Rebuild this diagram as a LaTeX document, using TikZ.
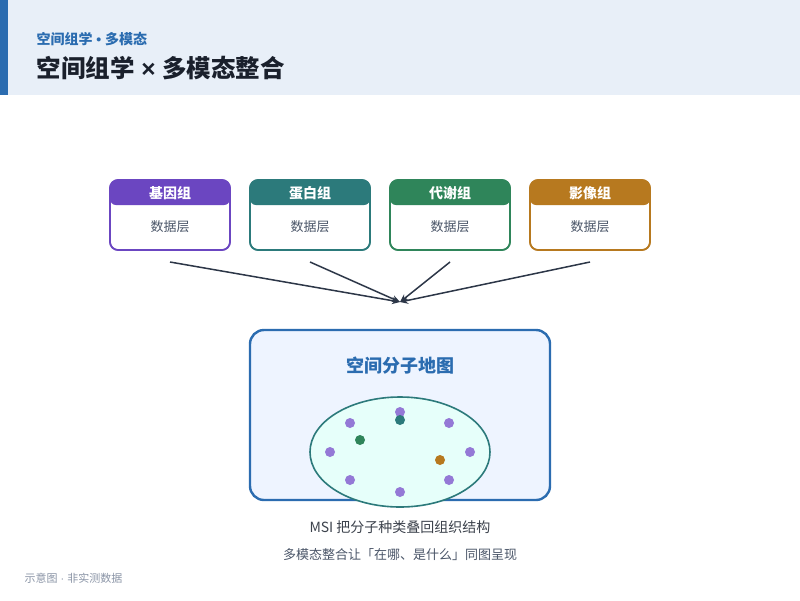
\documentclass[tikz,border=0pt]{standalone}
\usepackage{fontspec}
\setmainfont{Noto Sans CJK SC}
\newfontfamily\latinf{Liberation Sans}
\usetikzlibrary{arrows.meta,shapes.geometric}
\definecolor{hdrbg}{HTML}{E8EFF8}
\definecolor{accent}{HTML}{2B6CB0}
\definecolor{titlec}{HTML}{1A202C}
\definecolor{cpurple}{HTML}{6B46C1}
\definecolor{cteal}{HTML}{2C7A7B}
\definecolor{cgreen}{HTML}{2F855A}
\definecolor{corange}{HTML}{B7791F}
\definecolor{dotp}{HTML}{9479D6}
\definecolor{arrowc}{HTML}{2D3748}
\definecolor{mapbg}{HTML}{EEF4FF}
\definecolor{ellbg}{HTML}{E6FFFA}
\definecolor{subtxt}{HTML}{4A5568}
\definecolor{foot}{HTML}{8A94A6}
\tikzset{
  modbox/.style={draw=#1, line width=1.6pt, rounded corners=8pt, fill=white, minimum width=120pt, minimum height=70pt, inner sep=0pt},
  modhead/.style={text=white, font=\fontsize{14}{16}\selectfont\bfseries},
  modbody/.style={text=subtxt, font=\fontsize{13}{15}\selectfont},
  flow/.style={draw=arrowc, line width=1.5pt, -{Stealth[length=8pt,width=7pt]}},
  dot/.style={circle, fill=#1, minimum size=10pt, inner sep=0pt},
}
\begin{document}
\begin{tikzpicture}[x=1pt,y=-1pt]
\useasboundingbox (0,0) rectangle (800,600);
\fill[white] (0,0) rectangle (800,600);
% header
\fill[hdrbg] (0,0) rectangle (800,95);
\fill[accent] (0,0) rectangle (8,95);
\node[anchor=west, text=accent, font=\fontsize{14}{16}\selectfont\bfseries] (sub) at (33,39) {空间组学{\latinf\ • }多模态};
\node[anchor=west, text=titlec, font=\fontsize{24.5}{28}\selectfont\bfseries] (title) at (33,68) {空间组学{\latinf\ ×\ }多模态整合};
% module boxes
\foreach \nm/\cx/\col/\lab in {b1/170/cpurple/基因组, b2/310/cteal/蛋白组, b3/450/cgreen/代谢组, b4/590/corange/影像组}{
  \node[modbox=\col] (\nm) at (\cx,215) {};
  \begin{scope}
    \clip[rounded corners=8pt] (\cx-60,180) rectangle (\cx+60,250);
    \fill[\col, rounded corners=6pt] (\cx-60,172) rectangle (\cx+60,205);
  \end{scope}
  \draw[\col, line width=1.6pt, rounded corners=8pt] (\cx-60,180) rectangle (\cx+60,250);
  \node[modhead] (\nm h) at (\cx,193) {\lab};
  \node[modbody] (\nm t) at (\cx,227) {数据层};
  \coordinate (\nm s) at (\cx,262);
}
% main map
\node[draw=accent, line width=2.4pt, fill=mapbg, rounded corners=14pt, minimum width=300pt, minimum height=170pt] (map) at (400,415) {};
\coordinate (tgt) at (400,302);
\foreach \s in {b1s,b2s,b3s,b4s}{ \draw[flow] (\s) -- (tgt); }
\node[text=accent, font=\fontsize{18}{20}\selectfont\bfseries] (maptitle) at (400,366) {空间分子地图};
\node[ellipse, draw=cteal, line width=1.6pt, fill=ellbg, minimum width=180pt, minimum height=110pt, inner sep=0pt] (ell) at (400,452) {};
% dots
\node[dot=dotp] (d1) at (400,412) {};
\node[dot=dotp] (d2) at (350,423) {};
\node[dot=dotp] (d3) at (449,423) {};
\node[dot=dotp] (d4) at (330,452) {};
\node[dot=dotp] (d5) at (470,452) {};
\node[dot=dotp] (d6) at (350,480) {};
\node[dot=dotp] (d7) at (449,480) {};
\node[dot=dotp] (d8) at (400,492) {};
\node[dot=cteal] (e1) at (400,420) {};
\node[dot=cgreen] (e2) at (360,440) {};
\node[dot=corange] (e3) at (440,460) {};
% captions
\node[text=titlec!85, font=\fontsize{14}{16}\selectfont] (cap1) at (400,527) {MSI 把分子种类叠回组织结构};
\node[text=subtxt, font=\fontsize{13}{15}\selectfont] (cap2) at (400,555) {多模态整合让「在哪、是什么」同图呈现};
\node[anchor=west, text=foot, font=\fontsize{11}{13}\selectfont] (foot) at (21,578) {示意图{\latinf\ ·\ }非实测数据};
\end{tikzpicture}
\end{document}
